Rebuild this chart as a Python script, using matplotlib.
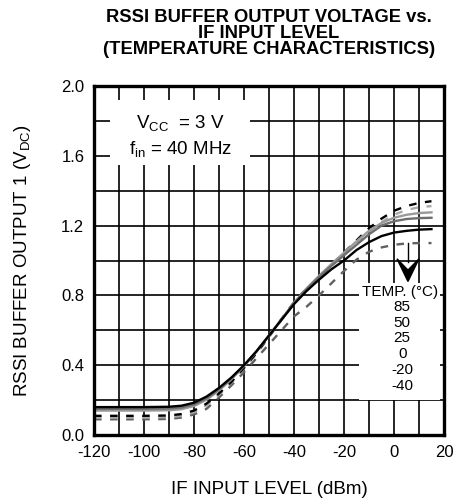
import matplotlib
matplotlib.use("Agg")
import matplotlib.pyplot as plt
from matplotlib.patches import Rectangle, Polygon

plt.rcParams['font.family'] = ['Liberation Sans', 'DejaVu Sans']
plt.rcParams['mathtext.fontset'] = 'custom'
plt.rcParams['mathtext.rm'] = 'Liberation Sans'
plt.rcParams['mathtext.it'] = 'Liberation Sans'
plt.rcParams['mathtext.bf'] = 'Liberation Sans:bold'

# ---- data ----
if_level = [-120, -110, -100, -90, -85, -80, -75, -70, -65, -60, -55, -50, -45,
            -40, -35, -30, -25, -20, -15, -10, -5, 0, 5, 10, 15]

v_50 = [0.160, 0.160, 0.160, 0.162, 0.168, 0.185, 0.220, 0.270, 0.330, 0.400, 0.480, 0.570, 0.660,
        0.750, 0.825, 0.890, 0.950, 1.000, 1.060, 1.105, 1.140, 1.160, 1.170, 1.177, 1.180]
v_25 = [0.150, 0.150, 0.150, 0.152, 0.158, 0.175, 0.210, 0.262, 0.325, 0.398, 0.480, 0.570, 0.662,
        0.755, 0.835, 0.905, 0.970, 1.030, 1.090, 1.150, 1.200, 1.225, 1.238, 1.243, 1.245]
v_0 = [0.140, 0.140, 0.140, 0.142, 0.148, 0.166, 0.202, 0.256, 0.320, 0.395, 0.478, 0.570, 0.664,
       0.758, 0.840, 0.912, 0.980, 1.045, 1.110, 1.170, 1.215, 1.245, 1.262, 1.272, 1.276]
v_m20 = [0.110, 0.110, 0.110, 0.112, 0.120, 0.140, 0.180, 0.238, 0.305, 0.385, 0.470, 0.565, 0.665,
         0.760, 0.840, 0.905, 0.975, 1.045, 1.115, 1.185, 1.240, 1.285, 1.312, 1.330, 1.340]
v_m40 = [0.100, 0.100, 0.100, 0.102, 0.110, 0.130, 0.170, 0.230, 0.300, 0.380, 0.465, 0.560, 0.660,
         0.755, 0.835, 0.900, 0.968, 1.035, 1.100, 1.165, 1.220, 1.262, 1.290, 1.305, 1.312]
v_85 = [0.090, 0.090, 0.090, 0.092, 0.100, 0.118, 0.150, 0.215, 0.285, 0.360, 0.440, 0.520, 0.600,
        0.680, 0.735, 0.800, 0.870, 0.940, 1.005, 1.050, 1.075, 1.090, 1.098, 1.100, 1.100]

temps = ["85", "50", "25", "0", "-20", "-40"]
x_ticks = [-120, -100, -80, -60, -40, -20, 0, 20]
y_ticks = [0.0, 0.4, 0.8, 1.2, 1.6, 2.0]

fig = plt.figure(figsize=(4.62, 5.01), dpi=100)
ax = fig.add_axes([0.2035, 0.1317, 0.7575, 0.6966])
ax.set_axisbelow(True)

ax.set_xlim(-120, 20)
ax.set_ylim(0, 2.0)
ax.set_xticks(x_ticks)
ax.set_xticklabels([str(v) for v in x_ticks])
ax.set_yticks(y_ticks)
ax.set_yticklabels([f"{v:.1f}" for v in y_ticks])
ax.set_xticks(list(range(-110, 20, 20)), minor=True)
ax.set_yticks([0.2, 0.6, 1.0, 1.4, 1.8], minor=True)
ax.grid(True, which='both', color='black', linewidth=1.2)
ax.tick_params(which='both', length=0, labelsize=12, pad=7)
for s in ax.spines.values():
    s.set_linewidth(2.4)
    s.set_zorder(10)

# white boxes behind the annotation texts
ax.add_patch(Rectangle((-113.6, 1.55), 56.0, 0.37, facecolor='white', edgecolor='none', zorder=1))
ax.add_patch(Rectangle((-14.0, 0.20), 32.6, 0.67, facecolor='white', edgecolor='none', zorder=1))

lw = 1.7
ax.plot(if_level, v_85, color='#606060', lw=lw, dashes=(3.2, 3.6), zorder=3)
ax.plot(if_level, v_m40, color='#a8a8a8', lw=lw, dashes=(3.2, 3.6), zorder=3)
ax.plot(if_level, v_m20, color='black', lw=lw, dashes=(3.2, 3.6), zorder=3)
ax.plot(if_level, v_0, color='#9a9a9a', lw=lw, zorder=4)
ax.plot(if_level, v_25, color='#6e6e6e', lw=lw, zorder=4)
ax.plot(if_level, v_50, color='black', lw=lw, zorder=5)

# arrow
ax.plot([5.6, 5.6], [1.10, 0.99], color='black', lw=1.0, zorder=5)
ax.add_patch(Polygon([(1.2, 1.01), (5.6, 0.945), (10.0, 1.01), (5.6, 0.88)],
                     closed=True, facecolor='black', edgecolor='black', zorder=6))

ax.text(-85.5, 1.79, r'V$_{\mathrm{CC}}$  = 3 V', ha='center', va='center', fontsize=13.5, zorder=6)
ax.text(-85.5, 1.64, r'f$_{\mathrm{in}}$ = 40 MHz', ha='center', va='center', fontsize=13.5, zorder=6)

ax.text(2.6, 0.82, 'TEMP. (°C)', ha='center', va='center', fontsize=11, zorder=6)
for i, t in enumerate(temps):
    ax.text(3.3, 0.735 - i * 0.0905, t, ha='center', va='center', fontsize=11, zorder=6)

ax.set_xlabel('IF INPUT LEVEL (dBm)', fontsize=13.5, labelpad=15)
ax.set_ylabel(r'RSSI BUFFER OUTPUT 1 (V$_{\mathrm{DC}}$)', fontsize=13.5, labelpad=20)
fig.text(0.582, 1 - 33.5 / 501,
         'RSSI BUFFER OUTPUT VOLTAGE vs.\nIF INPUT LEVEL\n(TEMPERATURE CHARACTERISTICS)',
         ha='center', va='center', fontsize=13.2, fontweight='bold', linespacing=0.9)

fig.savefig('out.png', dpi=100)
